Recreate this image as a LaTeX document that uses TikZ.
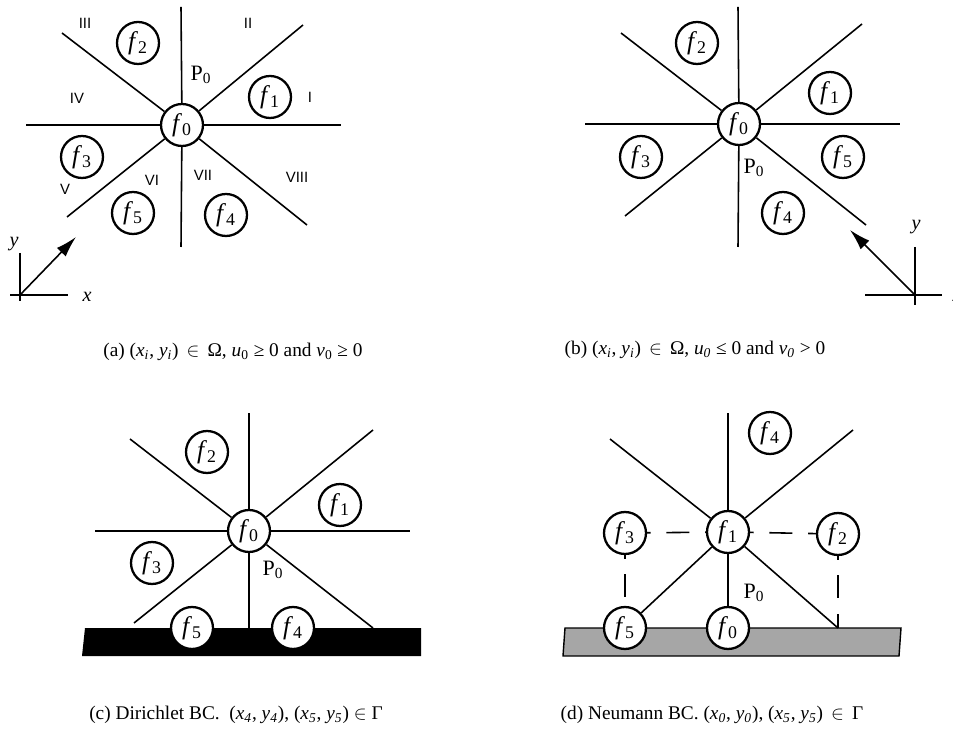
\documentclass[tikz,border=0pt]{standalone}
\usepackage{fontspec}
\setmainfont{Liberation Serif}
\newfontfamily\regfont{Liberation Sans}
\usepackage{tikz}
\usetikzlibrary{arrows.meta}
\newcommand{\fsub}[1]{\textit{f}\textsubscript{#1}}
\newcommand{\vsub}[2]{\textit{#1}\textsubscript{#2}}

\begin{document}
\begin{tikzpicture}[
  x=0.02cm, y=-0.02cm,
  line/.style={line width=0.9pt},
  pnode/.style={circle, draw, fill=white, line width=1.3pt, minimum size=0.84cm,
    inner sep=0pt, font=\fontsize{14.5}{16}\selectfont},
  lbl/.style={font=\fontsize{12.5}{14}\selectfont},
  sector/.style={font=\regfont\fontsize{8.5}{10}\selectfont},
  capt/.style={font=\fontsize{11}{13}\selectfont},
  arr/.style={-{Latex[length=12pt,width=7pt]}, line width=0.9pt},
  dashline/.style={line width=0.9pt, dash pattern=on 13pt off 9pt, dash phase=11pt}
]
\useasboundingbox (0,0) rectangle (953,732);

% (a)
\node[pnode] (a0) at (182,125) {\fsub{0}};
\node[pnode] (a1) at (270,97)  {\fsub{1}};
\node[pnode] (a2) at (138,43)  {\fsub{2}};
\node[pnode] (a3) at (82,157)  {\fsub{3}};
\node[pnode] (a4) at (226,215) {\fsub{4}};
\node[pnode] (a5) at (133,213) {\fsub{5}};
\coordinate (aN) at (181,7);   \coordinate (aS) at (181,247);
\coordinate (aE) at (341,125); \coordinate (aW) at (26,125);
\coordinate (aNE) at (303,25); \coordinate (aNW) at (62,33);
\coordinate (aSW) at (67,217); \coordinate (aSE) at (307,225);
\foreach \e in {N,S,E,W,NE,NW,SW,SE}
  \draw[line] (a0) -- (a\e);
\node[lbl] (aP) at (201,75) {P\textsubscript{0}};
\node[sector] (s1) at (310,97)  {I};
\node[sector] (s2) at (248,23)  {II};
\node[sector] (s3) at (85,23)   {III};
\node[sector] (s4) at (77,98)   {IV};
\node[sector] (s5) at (65,189)  {V};
\node[sector] (s6) at (152,180) {VI};
\node[sector] (s7) at (203,175) {VII};
\node[sector] (s8) at (297,177) {VIII};
\coordinate (ao) at (20,295);
\coordinate (aoy) at (20,253); \coordinate (aoy2) at (20,301);
\coordinate (aox) at (68,295); \coordinate (aox2) at (10,295);
\coordinate (aov) at (76,237);
\draw[line] (aoy) -- (aoy2);
\draw[line] (aox2) -- (aox);
\draw[arr] (ao) -- (aov);
\node[lbl, font=\fontsize{11.5}{13}\selectfont\itshape] (ay) at (14,244) {y};
\node[lbl, font=\fontsize{11.5}{13}\selectfont\itshape] (ax) at (87,297) {x};
\node[capt] (capa) at (233,352)
  {(a) (\vsub{x}{\textit{i}}, \vsub{y}{\textit{i}}) \,$\in$\, Ω, \vsub{u}{0} ≥ 0 and \vsub{v}{0} ≥ 0};

% (b)
\node[pnode] (b0) at (739,124) {\fsub{0}};
\node[pnode] (b1) at (830,93)  {\fsub{1}};
\node[pnode] (b2) at (697,43)  {\fsub{2}};
\node[pnode] (b3) at (641,157) {\fsub{3}};
\node[pnode] (b4) at (783,213) {\fsub{4}};
\node[pnode] (b5) at (843,157) {\fsub{5}};
\coordinate (bN) at (738,7);   \coordinate (bS) at (738,247);
\coordinate (bE) at (900,124); \coordinate (bW) at (585,124);
\coordinate (bNE) at (862,24); \coordinate (bNW) at (621,33);
\coordinate (bSW) at (625,216); \coordinate (bSE) at (866,225);
\foreach \e in {N,S,E,W,NE,NW,SW,SE}
  \draw[line] (b0) -- (b\e);
\node[lbl] (bP) at (754,168) {P\textsubscript{0}};
\coordinate (bo) at (915,295);
\coordinate (boy) at (915,247); \coordinate (boy2) at (915,305);
\coordinate (box) at (942,295); \coordinate (box2) at (865,295);
\coordinate (bov) at (850,230);
\draw[line] (boy) -- (boy2);
\draw[line] (box2) -- (box);
\draw[arr] (bo) -- (bov);
\node[lbl, font=\fontsize{11.5}{13}\selectfont\itshape] (by) at (916,227) {y};
\node[lbl, font=\fontsize{11.5}{13}\selectfont\itshape] (bx) at (957,297) {x};
\node[capt] (capb) at (695,350)
  {(b) (\vsub{x}{\textit{i}}, \vsub{y}{\textit{i}}) \,$\in$\, Ω, \vsub{u}{\textit{0}} ≤ 0 and \vsub{v}{\textit{0}} > 0};

% (c)
\fill (85,628) -- (421,628) -- (421,656) -- (82,656) -- cycle;
\node[pnode] (c0) at (249,531) {\fsub{0}};
\node[pnode] (c1) at (340,505) {\fsub{1}};
\node[pnode] (c2) at (207,452) {\fsub{2}};
\node[pnode] (c3) at (152,563) {\fsub{3}};
\node[pnode] (c4) at (293,628) {\fsub{4}};
\node[pnode] (c5) at (192,628) {\fsub{5}};
\coordinate (cN) at (249,413); \coordinate (cS) at (249,628);
\coordinate (cE) at (410,531); \coordinate (cW) at (95,531);
\coordinate (cNE) at (373,430); \coordinate (cNW) at (130,439);
\coordinate (cSW) at (134,623); \coordinate (cSE) at (373,628);
\foreach \e in {N,S,E,W,NE,NW,SW,SE}
  \draw[line] (c0) -- (c\e);
\node[lbl] (cP) at (273,570) {P\textsubscript{0}};
\node[capt] (capc) at (236,715)
  {(c) Dirichlet BC.\ \ (\vsub{x}{\textit{4}}, \vsub{y}{\textit{4}}), (\vsub{x}{\textit{5}}, \vsub{y}{\textit{5}}) $\in$ Γ};

% (d)
\filldraw[fill=gray!70, line width=0.8pt] (565,628) -- (901,628) -- (899,656) -- (563,656) -- cycle;
\node[pnode] (d1) at (728,532) {\fsub{1}};
\node[pnode] (d0) at (728,628) {\fsub{0}};
\node[pnode] (d2) at (838,534) {\fsub{2}};
\node[pnode] (d3) at (625,533) {\fsub{3}};
\node[pnode] (d4) at (770,433) {\fsub{4}};
\node[pnode] (d5) at (625,628) {\fsub{5}};
\coordinate (dN) at (728,413);
\coordinate (dNE) at (853,430); \coordinate (dNW) at (610,439);
\coordinate (dSE) at (838,628);
\foreach \e in {N,NE,NW,SE}
  \draw[line] (d1) -- (d\e);
\draw[line] (d1) -- (d5);
\draw[line] (d1) -- (d0);
\draw[dashline] (d3) -- (d1);
\draw[dashline] (d1) -- (d2);
\draw[dashline] (d3) -- (d5);
\draw[dashline] (d2) -- (dSE);
\node[lbl] (dP) at (754,593) {P\textsubscript{0}};
\node[capt] (capd) at (712,715)
  {(d) Neumann BC. (\vsub{x}{\textit{0}}, \vsub{y}{\textit{0}}), (\vsub{x}{\textit{5}}, \vsub{y}{\textit{5}}) \,$\in$\, Γ};
\end{tikzpicture}
\end{document}
